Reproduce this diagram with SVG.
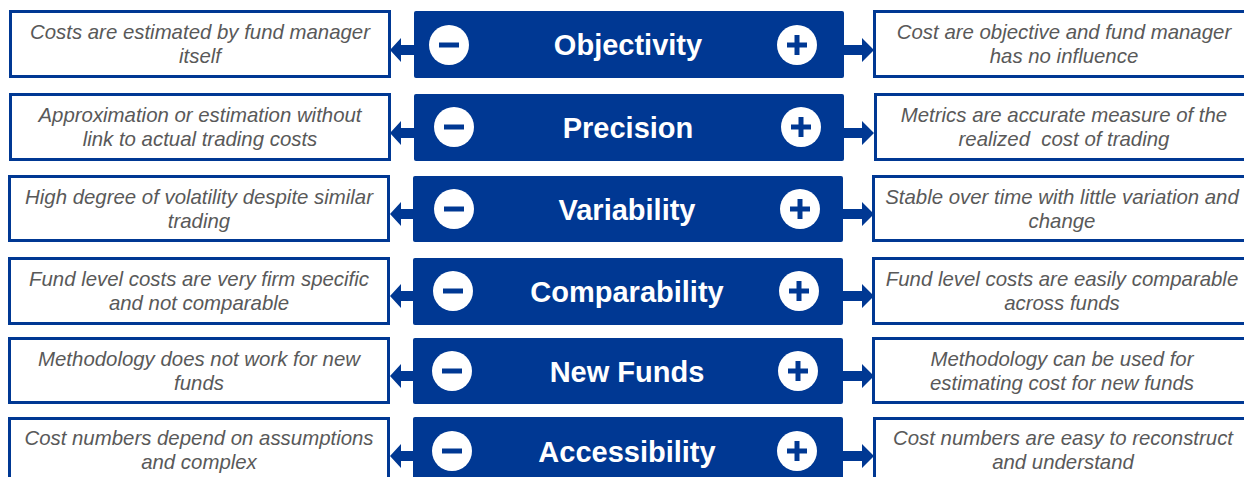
<svg xmlns="http://www.w3.org/2000/svg" width="1244" height="477" viewBox="0 0 1244 477">
<style>
.side{fill:#fff;stroke:#003893;stroke-width:3}
.mid{fill:#003893}
.title{font-family:"Liberation Sans",Arial,sans-serif;font-weight:bold;font-size:29px;fill:#fff;text-anchor:middle}
.desc{font-family:"Liberation Sans",Arial,sans-serif;font-style:italic;font-size:20.4px;fill:#595959;text-anchor:middle}
.circ{fill:#fff}
.sign{stroke:#003893;stroke-width:5;stroke-linecap:butt}
.arr{fill:#003893}
</style>
<defs>
<g id="minus"><circle class="circ" r="20"/><line class="sign" x1="-10" y1="0" x2="10" y2="0"/></g>
<g id="plus"><circle class="circ" r="20"/><line class="sign" x1="-10" y1="0" x2="10" y2="0"/><line class="sign" x1="0" y1="-10" x2="0" y2="10"/></g>
<path id="larr" d="M414,-5 L401,-5 L401,-12 L390,0 L401,12 L401,5 L414,5 Z"/>
<path id="rarr" d="M843,-5 L862,-5 L862,-12 L874,0 L862,12 L862,5 L843,5 Z"/>
</defs>
<g id="connectors">
<use href="#larr" class="arr" transform="translate(0,50)"/>
<use href="#rarr" class="arr" transform="translate(0,50)"/>
<use href="#larr" class="arr" transform="translate(0,133)"/>
<use href="#rarr" class="arr" transform="translate(0,133)"/>
<use href="#larr" class="arr" transform="translate(0,214)"/>
<use href="#rarr" class="arr" transform="translate(0,214)"/>
<use href="#larr" class="arr" transform="translate(0,296)"/>
<use href="#rarr" class="arr" transform="translate(0,296)"/>
<use href="#larr" class="arr" transform="translate(0,376)"/>
<use href="#rarr" class="arr" transform="translate(0,376)"/>
<use href="#larr" class="arr" transform="translate(0,456)"/>
<use href="#rarr" class="arr" transform="translate(0,456)"/>
</g>
<g id="row1">
<g id="objectivity-neg"><rect class="side" x="10.5" y="11.5" width="379" height="65"/><text class="desc" x="200" y="39">Costs are estimated by fund manager</text><text class="desc" x="200" y="63">itself</text></g>
<g id="objectivity"><rect class="mid" x="414" y="11" width="430" height="67" rx="2"/><use href="#minus" x="449" y="45"/><use href="#plus" x="797" y="45"/><text class="title" x="628" y="55">Objectivity</text></g>
<g id="objectivity-pos"><rect class="side" x="874.5" y="11.5" width="380" height="65"/><text class="desc" x="1064" y="39">Cost are objective and fund manager</text><text class="desc" x="1064" y="63">has no influence</text></g>
</g>
<g id="row2">
<g id="precision-neg"><rect class="side" x="10.5" y="94.5" width="379" height="65"/><text class="desc" x="200" y="122">Approximation or estimation without</text><text class="desc" x="200" y="146">link to actual trading costs</text></g>
<g id="precision"><rect class="mid" x="414" y="94" width="430" height="67" rx="2"/><use href="#minus" x="454" y="127"/><use href="#plus" x="801" y="127"/><text class="title" x="628" y="138">Precision</text></g>
<g id="precision-pos"><rect class="side" x="875.5" y="94.5" width="380" height="65"/><text class="desc" x="1064" y="122">Metrics are accurate measure of the</text><text class="desc" x="1064" y="146" xml:space="preserve">realized  cost of trading</text></g>
</g>
<g id="row3">
<g id="variability-neg"><rect class="side" x="9.5" y="176.5" width="379" height="64"/><text class="desc" x="199" y="204">High degree of volatility despite similar</text><text class="desc" x="199" y="228">trading</text></g>
<g id="variability"><rect class="mid" x="413" y="176" width="430" height="66" rx="2"/><use href="#minus" x="454" y="209"/><use href="#plus" x="800" y="209"/><text class="title" x="627" y="220">Variability</text></g>
<g id="variability-pos"><rect class="side" x="873.5" y="176.5" width="380" height="64"/><text class="desc" x="1062" y="204">Stable over time with little variation and</text><text class="desc" x="1062" y="228">change</text></g>
</g>
<g id="row4">
<g id="comparability-neg"><rect class="side" x="9.5" y="258.5" width="379" height="65"/><text class="desc" x="199" y="286">Fund level costs are very firm specific</text><text class="desc" x="199" y="310">and not comparable</text></g>
<g id="comparability"><rect class="mid" x="413" y="258" width="430" height="67" rx="2"/><use href="#minus" x="453" y="291"/><use href="#plus" x="799" y="291"/><text class="title" x="627" y="302">Comparability</text></g>
<g id="comparability-pos"><rect class="side" x="873.5" y="258.5" width="380" height="65"/><text class="desc" x="1062" y="286">Fund level costs are easily comparable</text><text class="desc" x="1062" y="310">across funds</text></g>
</g>
<g id="row5">
<g id="newfunds-neg"><rect class="side" x="9.5" y="338.5" width="379" height="64"/><text class="desc" x="199" y="366">Methodology does not work for new</text><text class="desc" x="199" y="390">funds</text></g>
<g id="newfunds"><rect class="mid" x="413" y="338" width="430" height="66" rx="2"/><use href="#minus" x="452" y="371"/><use href="#plus" x="798" y="371"/><text class="title" x="627" y="382">New Funds</text></g>
<g id="newfunds-pos"><rect class="side" x="873.5" y="338.5" width="380" height="64"/><text class="desc" x="1062" y="366">Methodology can be used for</text><text class="desc" x="1062" y="390">estimating cost for new funds</text></g>
</g>
<g id="row6">
<g id="accessibility-neg"><rect class="side" x="9.5" y="418.5" width="379" height="65"/><text class="desc" x="199" y="445">Cost numbers depend on assumptions</text><text class="desc" x="199" y="469">and complex</text></g>
<g id="accessibility"><rect class="mid" x="413" y="417" width="430" height="67" rx="2"/><use href="#minus" x="452" y="451"/><use href="#plus" x="797" y="451"/><text class="title" x="627" y="462">Accessibility</text></g>
<g id="accessibility-pos"><rect class="side" x="874.5" y="418.5" width="380" height="65"/><text class="desc" x="1063" y="445">Cost numbers are easy to reconstruct</text><text class="desc" x="1063" y="469">and understand</text></g>
</g>
</svg>
